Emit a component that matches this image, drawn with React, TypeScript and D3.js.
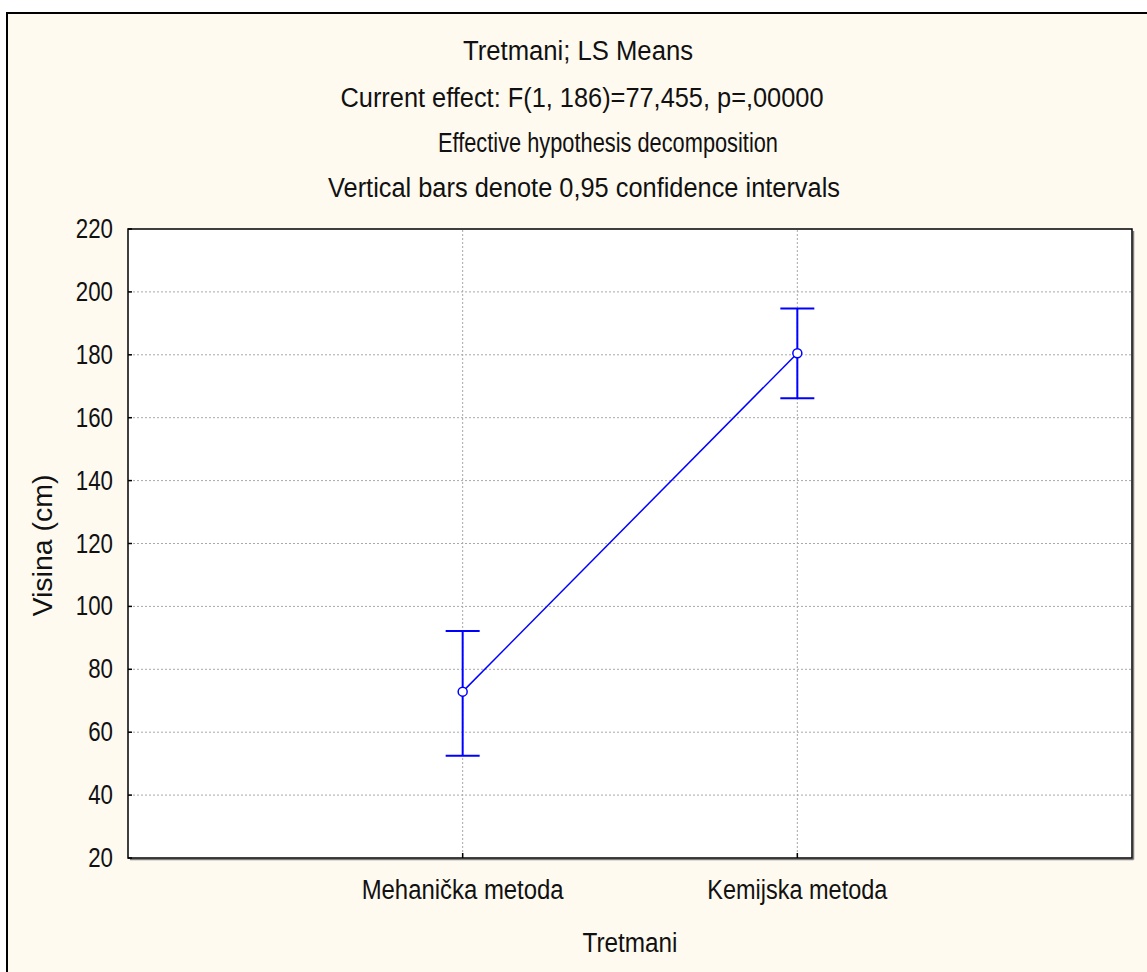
import React from "react";
import * as d3 from "d3";

// LS means with 0.95 confidence limits
const categories = ["Mehanička metoda", "Kemijska metoda"];
const means = [72.9, 180.5];
const lower = [52.5, 166.2];
const upper = [92.2, 194.7];
const yTicks = [20, 40, 60, 80, 100, 120, 140, 160, 180, 200, 220];

const titleLines = [
  "Tretmani; LS Means",
  "Current effect: F(1, 186)=77,455, p=,00000",
  "Effective hypothesis decomposition",
  "Vertical bars denote 0,95 confidence intervals",
];

const W = 1147;
const H = 972;
const plot = { left: 128, top: 229, right: 1132, bottom: 858 };
const font = "'Liberation Sans', Arial, sans-serif";
const blue = "#0000ff";

// title layout: [centre x, baseline y, text width]
const titleLayout: [number, number, number][] = [
  [578, 60, 230],
  [582, 107, 483],
  [608, 152, 340],
  [584, 197, 512],
];

const App: React.FC = () => {
  const x = d3
    .scalePoint<string>()
    .domain(categories)
    .range([plot.left, plot.right])
    .padding(1);

  const y = d3.scaleLinear().domain([20, 220]).range([plot.bottom, plot.top]);

  const line = d3
    .line<number>()
    .x((_, i) => x(categories[i]) as number)
    .y((d) => y(d));

  const capHalf = 17;

  return (
    <svg
      width={W}
      height={H}
      style={{ position: "absolute", left: 0, top: 0, background: "#fff" }}
      fontFamily={font}
    >
      {/* outer frame */}
      <rect x={7} y={13} width={1150} height={975} fill="#fffaf0" stroke="#000" strokeWidth={2} />

      {/* titles */}
      {titleLines.map((t, i) => (
        <text
          key={t}
          x={titleLayout[i][0]}
          y={titleLayout[i][1]}
          textAnchor="middle"
          fontSize={27}
          fill="#111"
          textLength={titleLayout[i][2]}
          lengthAdjust="spacingAndGlyphs"
        >
          {t}
        </text>
      ))}

      {/* plot area with shadow */}
      <line x1={plot.right + 1.5} y1={plot.top + 2} x2={plot.right + 1.5} y2={plot.bottom + 1.5} stroke="#808080" strokeWidth={1.5} />
      <line x1={plot.left + 2} y1={plot.bottom + 1.5} x2={plot.right + 1.5} y2={plot.bottom + 1.5} stroke="#808080" strokeWidth={1.5} />
      <rect
        x={plot.left}
        y={plot.top}
        width={plot.right - plot.left}
        height={plot.bottom - plot.top}
        fill="#fff"
        stroke="#000"
        strokeWidth={1.5}
      />

      {/* grid */}
      {yTicks.slice(1, -1).map((t) => (
        <line
          key={"g" + t}
          x1={plot.left + 1}
          x2={plot.right - 1}
          y1={y(t)}
          y2={y(t)}
          stroke="#a8a8a8"
          strokeDasharray="2,2"
        />
      ))}
      {categories.map((c) => (
        <line
          key={"gx" + c}
          x1={x(c)}
          x2={x(c)}
          y1={plot.top + 1}
          y2={plot.bottom - 1}
          stroke="#a8a8a8"
          strokeDasharray="2,2"
        />
      ))}

      {/* y axis ticks + labels */}
      {yTicks.map((t) => (
        <g key={"t" + t}>
          <line x1={plot.left} x2={plot.left + 4} y1={y(t)} y2={y(t)} stroke="#000" strokeWidth={1.5} />
          <text
            x={113}
            y={y(t) + 9}
            textAnchor="end"
            fontSize={27}
            fill="#111"
            textLength={String(t).length * 12.4}
            lengthAdjust="spacingAndGlyphs"
          >
            {t}
          </text>
        </g>
      ))}

      {/* x axis ticks + labels */}
      {categories.map((c, i) => (
        <g key={"x" + c}>
          <line x1={x(c)} x2={x(c)} y1={plot.bottom} y2={plot.bottom - 5} stroke="#000" strokeWidth={1.5} />
          <text
            x={x(c)}
            y={899}
            textAnchor="middle"
            fontSize={27}
            fill="#111"
            textLength={i === 0 ? 202 : 180}
            lengthAdjust="spacingAndGlyphs"
          >
            {c}
          </text>
        </g>
      ))}

      {/* axis titles */}
      <text
        x={(plot.left + plot.right) / 2}
        y={952}
        textAnchor="middle"
        fontSize={27}
        fill="#111"
        textLength={95}
        lengthAdjust="spacingAndGlyphs"
      >
        Tretmani
      </text>
      <text
        transform={`translate(52,${(plot.top + plot.bottom) / 2 + 2}) rotate(-90)`}
        textAnchor="middle"
        fontSize={27}
        fill="#111"
        textLength={142}
        lengthAdjust="spacingAndGlyphs"
      >
        Visina (cm)
      </text>

      {/* means line */}
      <path d={line(means) || ""} fill="none" stroke={blue} strokeWidth={1.5} />

      {/* error bars */}
      {categories.map((c, i) => {
        const cx = x(c) as number;
        return (
          <g key={"e" + c} stroke={blue} strokeWidth={2}>
            <line x1={cx} x2={cx} y1={y(upper[i])} y2={y(lower[i])} />
            <line x1={cx - capHalf} x2={cx + capHalf} y1={y(upper[i])} y2={y(upper[i])} />
            <line x1={cx - capHalf} x2={cx + capHalf} y1={y(lower[i])} y2={y(lower[i])} />
          </g>
        );
      })}

      {/* mean markers */}
      {categories.map((c, i) => (
        <circle key={"m" + c} cx={x(c)} cy={y(means[i])} r={4.5} fill="#fff" stroke={blue} strokeWidth={1.5} />
      ))}
    </svg>
  );
};

export default App;
